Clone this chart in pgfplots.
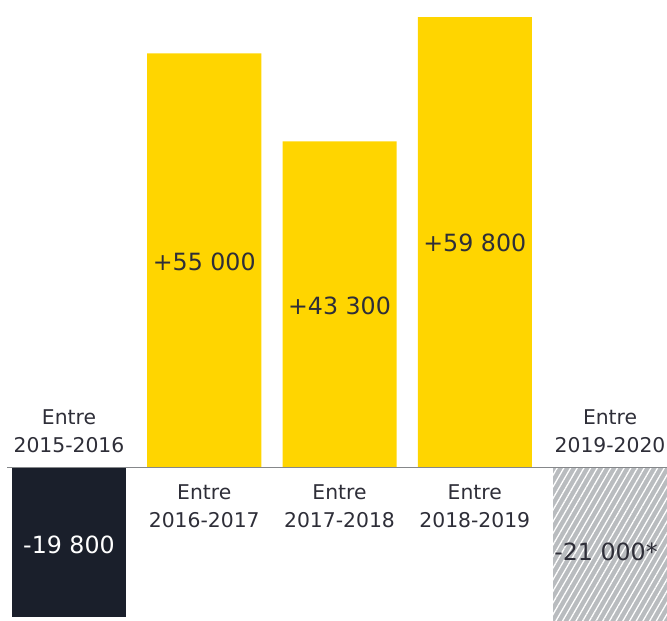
\documentclass[border=0pt]{standalone}
\usepackage{pgfplots}
\pgfplotsset{compat=1.18}
\usepackage{fontspec}
\setmainfont{DejaVu Sans}
\usetikzlibrary{patterns.meta}
\definecolor{eyyellow}{HTML}{FFD500}
\definecolor{eydark}{HTML}{1A1F2B}
\definecolor{eytext}{HTML}{2E2E38}
\definecolor{hatchgray}{HTML}{B9BCBF}
\definecolor{basegray}{HTML}{85878A}
\begin{document}
\begin{tikzpicture}
\begin{axis}[
  width=667bp, height=621bp, scale only axis,
  xmin=-0.510, xmax=4.421, ymin=-20385, ymax=62085,
  hide axis, clip=true,
  ybar, bar width=0.843, bar shift=0pt,
]
\addplot[fill=eydark, draw=none] coordinates {(0,-19800)};
\addplot[fill=eyyellow, draw=none] coordinates {(1,55000) (2,43300) (3,59800)};
\addplot[fill=hatchgray, draw=none, postaction={pattern={Lines[angle=60,distance=5.8bp,line width=1.3bp]}, pattern color=white}] coordinates {(4,-21000)};
\draw[draw=basegray, line width=1.8bp] (axis cs:-0.458,0) -- (axis cs:4.421,0);
\tikzset{cat/.style={font=\fontsize{20.4}{24}\selectfont, text=eytext, anchor=base, inner sep=0pt},
         val/.style={font=\fontsize{23.8}{28}\selectfont, anchor=base, inner sep=0pt}}
\node[cat] at (axis cs:0,5710) {Entre};
\node[cat] at (axis cs:0,1992) {2015-2016};
\node[cat] at (axis cs:1,-4250) {Entre};
\node[cat] at (axis cs:1,-7968) {2016-2017};
\node[cat] at (axis cs:2,-4250) {Entre};
\node[cat] at (axis cs:2,-7968) {2017-2018};
\node[cat] at (axis cs:3,-4250) {Entre};
\node[cat] at (axis cs:3,-7968) {2018-2019};
\node[cat] at (axis cs:4,5710) {Entre};
\node[cat] at (axis cs:4,1992) {2019-2020};
\node[val, text=white] at (axis cs:0,-11420) {-19 800};
\node[val, text=eytext] at (axis cs:1,26160) {+55 000};
\node[val, text=eytext] at (axis cs:2,20320) {+43 300};
\node[val, text=eytext] at (axis cs:3,28685) {+59 800};
\node[val, text=eytext] at (axis cs:3.97,-12350) {-21 000*};
\end{axis}
\pgfresetboundingbox
\useasboundingbox (current axis.south west) rectangle (current axis.north east);
\end{tikzpicture}
\end{document}
